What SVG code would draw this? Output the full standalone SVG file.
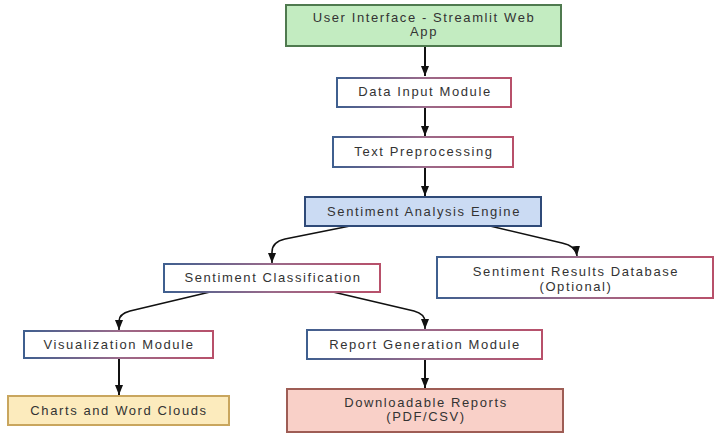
<svg xmlns="http://www.w3.org/2000/svg" width="721" height="436" viewBox="0 0 721 436">
<defs>
<linearGradient id="bp" x1="0" y1="0" x2="1" y2="0">
<stop offset="0" stop-color="#3f5f8f"/>
<stop offset="0.5" stop-color="#9a6a8a"/>
<stop offset="1" stop-color="#b8506a"/>
</linearGradient>
<marker id="ah" viewBox="0 0 10 8" refX="10" refY="4" markerWidth="10" markerHeight="8" markerUnits="userSpaceOnUse" orient="auto">
<path d="M0,0 L10,4 L0,8 Z" fill="#111"/>
</marker>
<style>
text{font-family:"Liberation Sans",Arial,sans-serif;font-size:13px;letter-spacing:1.6px;fill:#333;text-anchor:middle}
.w{fill:#fff;stroke:url(#bp);stroke-width:2}
.c{fill:none;stroke:#111;stroke-width:1.6;marker-end:url(#ah)}
.v{fill:none;stroke:#111;stroke-width:2;marker-end:url(#ah)}
</style>
</defs>
<rect width="721" height="436" fill="#fff"/>
<g id="connectors">
<path class="v" d="M425,46 L425,76"/>
<path class="v" d="M425,107 L425,136"/>
<path class="v" d="M425,167 L425,196"/>
<path class="c" d="M350,226 L285,239 Q272,242 272,252 L272,263"/>
<path class="c" d="M490,226 L562,243 Q576,246 577,256"/>
<path class="c" d="M210,292 L130,311 Q119,314 119,321 L119,330"/>
<path class="c" d="M333,292 L414,311 Q425,314 425,322 L425,329"/>
<path class="v" d="M119,358 L119,395"/>
<path class="v" d="M425,359 L425,388"/>
</g>
<g id="ui">
<rect x="286" y="5" width="275" height="41" fill="#c3ecc1" stroke="#4f7a4f" stroke-width="2"/>
<text x="424" y="22">User Interface - Streamlit Web</text>
<text x="424" y="36">App</text>
</g>
<g id="input">
<rect class="w" x="337" y="78" width="174" height="29"/>
<text x="425" y="96">Data Input Module</text>
</g>
<g id="prep">
<rect class="w" x="333" y="137" width="180" height="30"/>
<text x="424" y="156">Text Preprocessing</text>
</g>
<g id="engine">
<rect x="305" y="197" width="236" height="29" fill="#cbdbf3" stroke="#2f4a78" stroke-width="2"/>
<text x="424" y="216">Sentiment Analysis Engine</text>
</g>
<g id="classify">
<rect class="w" x="164" y="264" width="216" height="28"/>
<text x="273" y="282">Sentiment Classification</text>
</g>
<g id="db">
<rect class="w" x="437" y="257" width="276" height="41"/>
<text x="576" y="276">Sentiment Results Database</text>
<text x="576" y="291">(Optional)</text>
</g>
<g id="viz">
<rect class="w" x="24" y="331" width="189" height="27"/>
<text x="119" y="349">Visualization Module</text>
</g>
<g id="report">
<rect class="w" x="307" y="330" width="235" height="29"/>
<text x="425" y="349">Report Generation Module</text>
</g>
<g id="charts">
<rect x="8" y="396" width="221" height="29" fill="#fcebbd" stroke="#c9a65e" stroke-width="2"/>
<text x="119" y="415">Charts and Word Clouds</text>
</g>
<g id="download">
<rect x="287" y="389" width="276" height="43" fill="#f9d0c8" stroke="#9e5d55" stroke-width="2"/>
<text x="426" y="407">Downloadable Reports</text>
<text x="426" y="421">(PDF/CSV)</text>
</g>
</svg>
